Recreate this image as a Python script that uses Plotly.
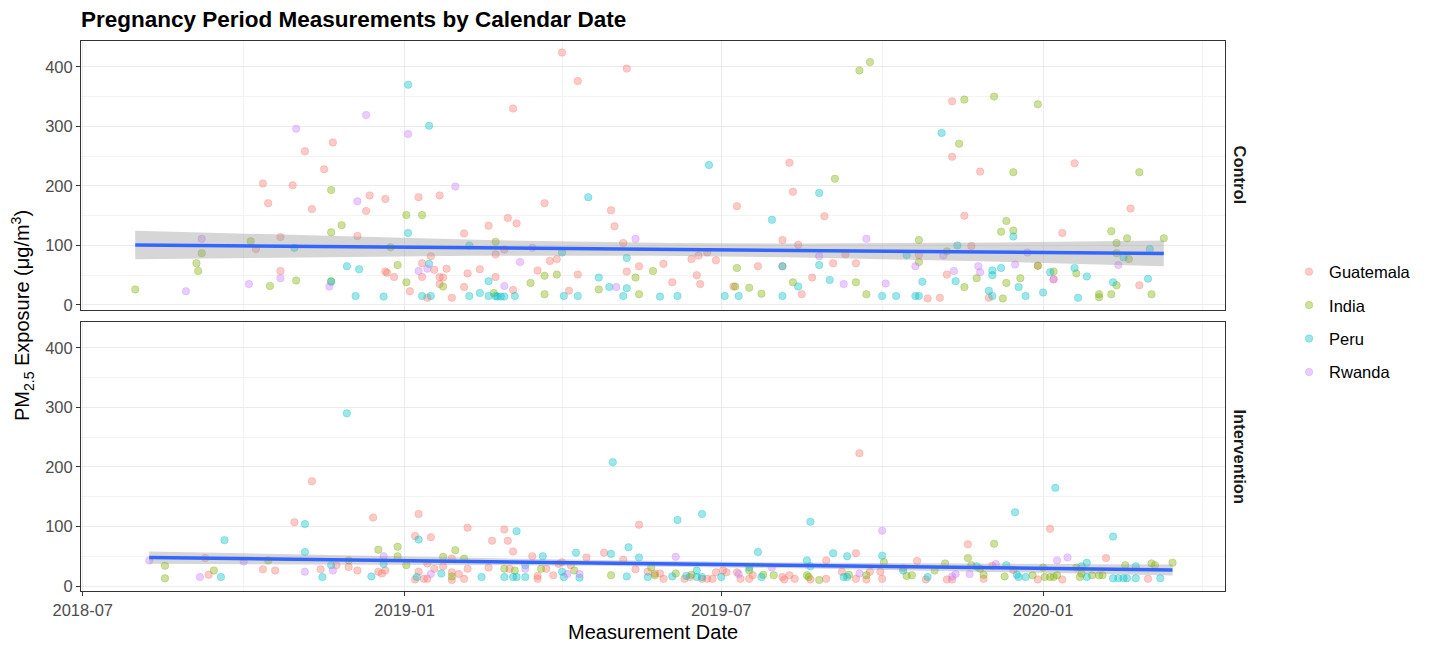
import numpy as np
import pandas as pd
import plotly.graph_objects as go

# ---------------- data (days counted from 2019-01-01, PM2.5 in ug/m3) ----------------
countries = ["Guatemala", "India", "Peru", "Rwanda"]
colors = {"Guatemala": "248,118,109", "India": "124,174,0", "Peru": "0,191,196", "Rwanda": "199,124,255"}

ctrl_gua_day = [-85, -81, -78, -71, -71, -64, -57, -53, -46, -41, -27, -22, -20, -11, -11, -10, -6, 3, 8, 10, 10, 13, 15, 17, 20, 20, 20, 22, 24, 27, 34, 34, 36, 43, 48, 52, 52, 57, 59, 62, 62, 64, 76, 80, 83, 87, 90, 94, 99, 99, 118, 120, 125, 127, 127, 134, 148, 153, 164, 167, 168, 169, 173, 178, 188, 190, 202, 216, 216, 220, 222, 225, 227, 233, 240, 245, 252, 258, 294, 299, 306, 310, 313, 313, 320, 324, 329, 334, 362, 371, 376, 383, 415, 420]
ctrl_gua_pm = [94, 204, 171, 114, 57, 201, 258, 161, 228, 273, 116, 158, 184, 178, 56, 54, 47, 23, 181, 70, 47, 12, 82, 59, 184, 47, 35, 46, 61, 12, 120, 30, 53, 60, 133, 85, 47, 93, 146, 330, 25, 137, 58, 171, 74, 77, 424, 24, 376, 51, 159, 132, 104, 397, 56, 65, 69, 38, 77, 50, 83, 35, 88, 75, 31, 166, 65, 109, 65, 239, 190, 101, 18, 46, 149, 70, 85, 70, 84, 11, 12, 51, 342, 249, 150, 99, 224, 12, 66, 43, 121, 238, 162, 33]

ctrl_ind_day = [-154, -119, -118, -116, -88, -77, -62, -42, -42, -42, -36, -8, -4, 1, 1, 10, 22, 51, 52, 72, 80, 80, 87, 111, 132, 134, 142, 189, 190, 197, 204, 222, 246, 258, 260, 264, 266, 294, 294, 310, 317, 320, 320, 327, 337, 341, 342, 344, 344, 348, 348, 352, 362, 362, 371, 384, 397, 397, 404, 404, 407, 407, 407, 413, 414, 420, 427, 434]
ctrl_ind_pm = [26, 70, 57, 87, 107, 32, 41, 193, 122, 40, 134, 97, 67, 151, 38, 151, 31, 20, 106, 37, 49, 18, 51, 26, 46, 18, 57, 31, 62, 29, 19, 38, 212, 38, 394, 18, 408, 109, 72, 90, 271, 345, 30, 45, 350, 123, 11, 141, 37, 223, 125, 45, 337, 66, 56, 53, 18, 13, 124, 18, 104, 87, 33, 112, 77, 223, 18, 112]

ctrl_per_day = [-63, -42, -33, -28, -26, -12, 2, 2, 10, 14, 14, 15, 37, 37, 43, 48, 48, 52, 53, 55, 57, 63, 90, 91, 99, 105, 111, 117, 125, 127, 127, 146, 156, 174, 183, 191, 210, 216, 216, 225, 237, 237, 243, 273, 281, 287, 292, 294, 296, 307, 315, 316, 334, 336, 336, 336, 341, 348, 351, 355, 365, 369, 383, 385, 390, 405, 411, 425, 426]
ctrl_per_pm = [96, 39, 65, 15, 60, 14, 370, 121, 15, 301, 69, 15, 100, 15, 20, 40, 15, 15, 14, 14, 14, 15, 88, 15, 15, 181, 46, 30, 15, 79, 28, 14, 15, 235, 15, 15, 143, 65, 15, 31, 188, 67, 42, 15, 15, 84, 15, 15, 39, 289, 40, 100, 24, 58, 50, 15, 62, 115, 30, 15, 21, 55, 62, 12, 48, 38, 80, 44, 94]

ctrl_rwa_day = [-125, -116, -89, -71, -62, -43, -27, -22, 2, 8, 13, 29, 57, 66, 73, 121, 132, 237, 251, 264, 275, 292, 308, 314, 328, 329, 349, 356, 371, 408]
ctrl_rwa_pm = [23, 111, 35, 45, 296, 31, 174, 319, 287, 57, 61, 199, 32, 72, 96, 30, 111, 82, 35, 111, 36, 65, 83, 57, 65, 55, 68, 88, 43, 67]

int_gua_day = [-114, -112, -81, -74, -63, -53, -48, -39, -32, -27, -18, -15, -13, -11, 6, 6, 8, 8, 11, 13, 13, 15, 17, 22, 27, 27, 27, 31, 34, 36, 36, 48, 50, 57, 59, 60, 62, 73, 76, 76, 81, 85, 88, 90, 95, 104, 114, 125, 132, 134, 139, 143, 146, 148, 160, 163, 170, 173, 176, 178, 182, 184, 190, 192, 197, 199, 216, 217, 220, 223, 232, 241, 241, 250, 258, 258, 260, 264, 266, 272, 273, 285, 293, 298, 310, 313, 322, 331, 336, 348, 362, 369, 376, 401, 425]
int_gua_pm = [47, 19, 28, 26, 107, 176, 28, 35, 32, 26, 115, 24, 21, 26, 84, 11, 121, 24, 12, 12, 38, 82, 29, 33, 46, 23, 10, 20, 12, 98, 29, 31, 76, 95, 76, 29, 58, 50, 17, 12, 29, 18, 37, 40, 35, 48, 56, 44, 28, 103, 24, 21, 21, 12, 12, 15, 12, 12, 12, 23, 26, 23, 23, 12, 12, 18, 15, 11, 18, 12, 11, 43, 12, 24, 55, 12, 223, 11, 24, 24, 12, 30, 42, 11, 11, 11, 70, 12, 34, 27, 11, 96, 11, 47, 12]

int_ind_day = [-137, -137, -109, -78, -32, -15, -4, -4, 1, 22, 27, 29, 34, 57, 63, 78, 97, 118, 141, 143, 155, 164, 197, 205, 211, 230, 231, 237, 254, 264, 274, 287, 290, 303, 309, 322, 324, 329, 331, 337, 343, 359, 365, 366, 369, 371, 373, 384, 386, 387, 393, 397, 399, 412, 427, 429, 439]
int_ind_pm = [34, 13, 26, 43, 43, 61, 66, 50, 35, 49, 16, 60, 46, 29, 26, 29, 26, 18, 31, 18, 21, 19, 26, 19, 18, 18, 15, 10, 19, 18, 40, 17, 18, 26, 38, 47, 35, 29, 19, 71, 16, 18, 31, 15, 15, 15, 18, 31, 15, 21, 18, 18, 18, 35, 38, 35, 39]

int_per_day = [-105, -103, -57, -57, -47, -42, -33, -19, -12, 7, 8, 21, 44, 57, 62, 64, 64, 69, 69, 79, 90, 91, 98, 100, 118, 119, 127, 128, 134, 139, 153, 156, 161, 167, 167, 170, 170, 181, 197, 202, 204, 230, 232, 232, 245, 251, 253, 253, 273, 285, 299, 327, 344, 349, 350, 351, 355, 372, 387, 390, 390, 405, 405, 408, 411, 413, 418, 418, 432]
int_per_pm = [15, 77, 104, 57, 15, 35, 290, 16, 37, 15, 78, 21, 15, 15, 15, 92, 15, 15, 35, 50, 24, 15, 56, 14, 54, 208, 16, 65, 48, 15, 16, 111, 17, 26, 15, 121, 15, 15, 31, 57, 15, 43, 108, 33, 55, 15, 50, 15, 51, 26, 15, 33, 35, 124, 19, 15, 15, 165, 33, 39, 15, 83, 13, 13, 13, 13, 33, 13, 13]

int_rwa_day = [-146, -117, -92, -57, -41, -12, 15, 69, 93, 100, 155, 191, 210, 260, 273, 313, 315, 323, 338, 373, 379]
int_rwa_pm = [43, 15, 41, 24, 26, 50, 20, 29, 20, 20, 49, 20, 31, 21, 93, 16, 20, 20, 37, 43, 48]

panels = {
    "Control": {"Guatemala": (ctrl_gua_day, ctrl_gua_pm), "India": (ctrl_ind_day, ctrl_ind_pm),
                "Peru": (ctrl_per_day, ctrl_per_pm), "Rwanda": (ctrl_rwa_day, ctrl_rwa_pm)},
    "Intervention": {"Guatemala": (int_gua_day, int_gua_pm), "India": (int_ind_day, int_ind_pm),
                     "Peru": (int_per_day, int_per_pm), "Rwanda": (int_rwa_day, int_rwa_pm)},
}

BASE = pd.Timestamp("2019-01-01")


def to_dates(days):
    return [(BASE + pd.Timedelta(days=float(d))).strftime("%Y-%m-%d %H:%M") for d in days]


FONT = "Liberation Sans, Arial, sans-serif"
fig = go.Figure()

axis_names = {"Control": ("x", "y"), "Intervention": ("x2", "y2")}

for panel, groups in panels.items():
    xa, ya = axis_names[panel]
    # linear model fit with 95% CI (like geom_smooth(method = "lm"))
    allx = np.concatenate([np.array(groups[c][0], float) for c in countries])
    ally = np.concatenate([np.array(groups[c][1], float) for c in countries])
    n = len(allx)
    xbar = allx.mean()
    sxx = ((allx - xbar) ** 2).sum()
    b1 = ((allx - xbar) * (ally - ally.mean())).sum() / sxx
    b0 = ally.mean() - b1 * xbar
    resid = ally - (b0 + b1 * allx)
    s = np.sqrt((resid ** 2).sum() / (n - 2))
    xs = np.linspace(allx.min(), allx.max(), 80)
    fit = b0 + b1 * xs
    se = s * np.sqrt(1.0 / n + (xs - xbar) ** 2 / sxx)
    tval = 1.969
    lo, hi = fit - tval * se, fit + tval * se
    xd = to_dates(xs)

    for c in countries:
        d, v = groups[c]
        rgb = colors[c]
        fig.add_trace(go.Scatter(
            x=to_dates(d), y=v, mode="markers", name=c, legendgroup=c,
            showlegend=(panel == "Control"), xaxis=xa, yaxis=ya,
            marker=dict(size=7.5, color=f"rgba({rgb},0.38)",
                        line=dict(width=1, color=f"rgba({rgb},0.28)")),
        ))

    fig.add_trace(go.Scatter(x=xd, y=lo, mode="lines", line=dict(width=0), showlegend=False,
                             xaxis=xa, yaxis=ya, hoverinfo="skip"))
    fig.add_trace(go.Scatter(x=xd, y=hi, mode="lines", line=dict(width=0), fill="tonexty",
                             fillcolor="rgba(153,153,153,0.4)", showlegend=False,
                             xaxis=xa, yaxis=ya, hoverinfo="skip"))
    fig.add_trace(go.Scatter(x=xd, y=fit, mode="lines", line=dict(color="#3366FF", width=3.5),
                             showlegend=False, xaxis=xa, yaxis=ya, hoverinfo="skip"))

xrange = ["2018-06-30", "2020-04-14"]
yrange = [-8.4, 443.4]

common_x = dict(range=xrange, type="date", dtick="M6", tick0="2018-07-01", tickformat="%Y-%m",
                showgrid=True, gridcolor="#EBEBEB", gridwidth=1.2, zeroline=False,
                showline=True, mirror=True, linecolor="#333333", linewidth=1,
                minor=dict(dtick="M3", tick0="2018-07-01", showgrid=True, gridcolor="#F3F3F3", gridwidth=0.7),
                tickfont=dict(family=FONT, size=16.5, color="#4D4D4D"))
common_y = dict(range=yrange, dtick=100, tick0=0, showgrid=True, gridcolor="#EBEBEB", gridwidth=1.2,
                zeroline=False, showline=True, mirror=True, linecolor="#333333", linewidth=1,
                ticks="outside", ticklen=4, tickcolor="#333333",
                minor=dict(dtick=50, showgrid=True, gridcolor="#F3F3F3", gridwidth=0.7),
                tickfont=dict(family=FONT, size=16.5, color="#4D4D4D"))

# page body adds an 8px offset, so the figure is 8px smaller and shifted accordingly
W, H = 1424, 637
fig.update_layout(
    width=W, height=H,
    margin=dict(l=73, r=207, t=33, b=54),
    paper_bgcolor="white", plot_bgcolor="white",
    font=dict(family=FONT, color="#000000"),
    title=dict(text="<b>Pregnancy Period Measurements by Calendar Date</b>", x=73 / W, xanchor="left",
               y=1 - 3 / H, yanchor="top", pad=dict(t=0, b=0, l=0, r=0),
               font=dict(family=FONT, size=22.5, color="black")),
    xaxis=dict(domain=[0, 1], anchor="y", showticklabels=False, ticks="", matches="x2", **common_x),
    xaxis2=dict(domain=[0, 1], anchor="y2", ticks="outside", ticklen=4, tickcolor="#333333", **common_x),
    yaxis=dict(domain=[0.511, 1], anchor="x", **common_y),
    yaxis2=dict(domain=[0, 0.489], anchor="x2", **common_y),
    legend=dict(x=1.056, xanchor="left", y=0.612, yanchor="top", tracegroupgap=9,
                font=dict(family=FONT, size=16.5, color="black"), bgcolor="rgba(0,0,0,0)"),
    showlegend=True,
)

annotations = [
    dict(text="<b>Control</b>", x=1.0131, y=0.7555, xref="paper", yref="paper", textangle=90,
         showarrow=False, font=dict(family=FONT, size=16.5, color="#1A1A1A"), xanchor="center", yanchor="middle"),
    dict(text="<b>Intervention</b>", x=1.0131, y=0.2445, xref="paper", yref="paper", textangle=90,
         showarrow=False, font=dict(family=FONT, size=16.5, color="#1A1A1A"), xanchor="center", yanchor="middle"),
    dict(text="PM<sub>2.5</sub> Exposure (μg/m<sup>3</sup>)", x=(22 - 81) / 1144, y=0.5, xref="paper",
         yref="paper", textangle=-90, showarrow=False, font=dict(family=FONT, size=20, color="black"),
         xanchor="center", yanchor="middle"),
    dict(text="Measurement Date", x=0.5, y=(591 - 632) / 550, xref="paper", yref="paper", showarrow=False,
         font=dict(family=FONT, size=20, color="black"), xanchor="center", yanchor="middle"),
]
fig.update_layout(annotations=annotations)

fig.write_html("out.html")
